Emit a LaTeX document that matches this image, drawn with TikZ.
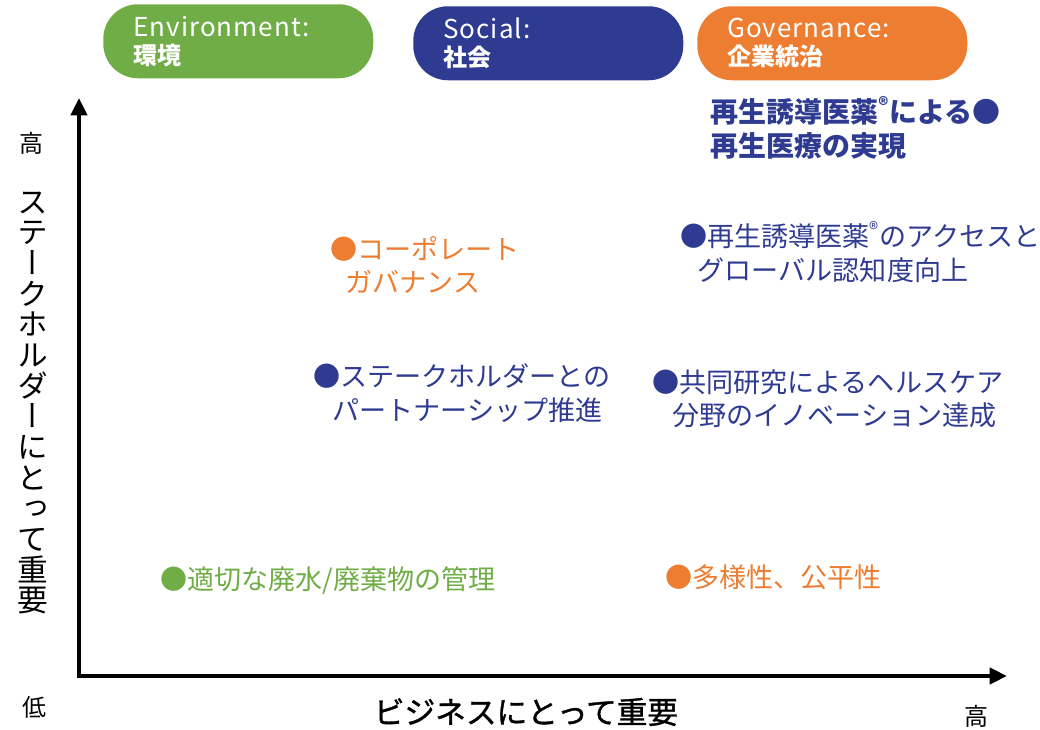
\documentclass[tikz,border=0pt]{standalone}
\usepackage{fontspec}
\setmainfont{Noto Sans CJK JP}
\newfontfamily\vertfont{Noto Sans CJK JP}[RawFeature=+vert]
\newfontfamily\pillfont{Noto Sans CJK JP}[LetterSpace=4]
\newfontfamily\medfont{Noto Sans CJK JP}[FakeBold=1.2]
\usetikzlibrary{arrows.meta}
\definecolor{cgreen}{HTML}{70AD47}
\definecolor{cblue}{HTML}{2E3B90}
\definecolor{corange}{HTML}{ED7D31}
\newcommand{\regmark}{\textsuperscript{®}}
\begin{document}
\begin{tikzpicture}[x=0.75pt,y=-0.75pt,
  pill/.style={rounded corners=26pt, anchor=north west, text width=157.5pt,
    inner xsep=22.5pt, inner ysep=0pt, minimum height=55.5pt, align=left, text=white,
    font=\fontsize{19.5}{21}\selectfont},
  item/.style={anchor=west, inner sep=0pt, align=left,
    font=\fontsize{20.3}{25}\selectfont},
  axislbl/.style={inner sep=0pt, font=\fontsize{18}{20}\selectfont},
  axis/.style={line width=3pt, {Triangle[length=13pt,width=12pt]}-{Triangle[length=13pt,width=12pt]}}
]
\useasboundingbox (0,0) rectangle (1040,730);

% category pills
\node[pill, fill=cgreen] (env) at (103,4)
  {{\pillfont Environment:}\\{\bfseries\fontsize{18}{21}\selectfont 環境}};
\node[pill, fill=cblue] (soc) at (413,6)
  {{\pillfont Social:}\\{\bfseries\fontsize{18}{21}\selectfont 社会}};
\node[pill, fill=corange] (gov) at (697,6)
  {{\pillfont Governance:}\\{\bfseries\fontsize{18}{21}\selectfont 企業統治}};

% axes
\coordinate (ytip) at (79,98);
\coordinate (xtip) at (1007,676);
\draw[axis] (ytip) |- (xtip);

% axis labels
\node[axislbl] (yhi) at (31,143) {高};
\node[axislbl] (ylo) at (34,707) {低};
\node[axislbl] (xhi) at (976,716) {高};
\node[inner sep=0pt, font=\medfont\fontsize{23}{25}\selectfont] (xlab) at (526,712) {ビジネスにとって重要};
\node[inner sep=0pt, align=center, font=\vertfont\fontsize{23}{23}\selectfont] (ylab) at (33,403)
  {ス\\テ\\ー\\ク\\ホ\\ル\\ダ\\ー\\に\\と\\っ\\て\\重\\要};

% items
\node[item, text=cblue, font=\bfseries\fontsize{21}{25.5}\selectfont] (regen) at (710,128)
  {再生誘導医薬\regmark による●\\再生医療の実現};
\node[item, text=corange] (corp) at (330,265)
  {●コーポレート\\\hspace*{0.56em}ガバナンス};
\node[item, text=cblue] (access) at (680,252)
  {●再生誘導医薬\regmark のアクセスと\\\hspace*{0.65em}グローバル認知度向上};
\node[item, text=cblue] (partner) at (313,393)
  {●ステークホルダーとの\\\hspace*{0.7em}パートナーシップ推進};
\node[item, text=cblue] (collab) at (652,399)
  {●共同研究によるヘルスケア\\\hspace*{0.75em}分野のイノベーション達成};
\node[item, text=cgreen] (waste) at (160,580)
  {●適切な廃水/廃棄物の管理};
\node[item, text=corange] (divers) at (665,577)
  {●多様性、公平性};
\end{tikzpicture}
\end{document}
